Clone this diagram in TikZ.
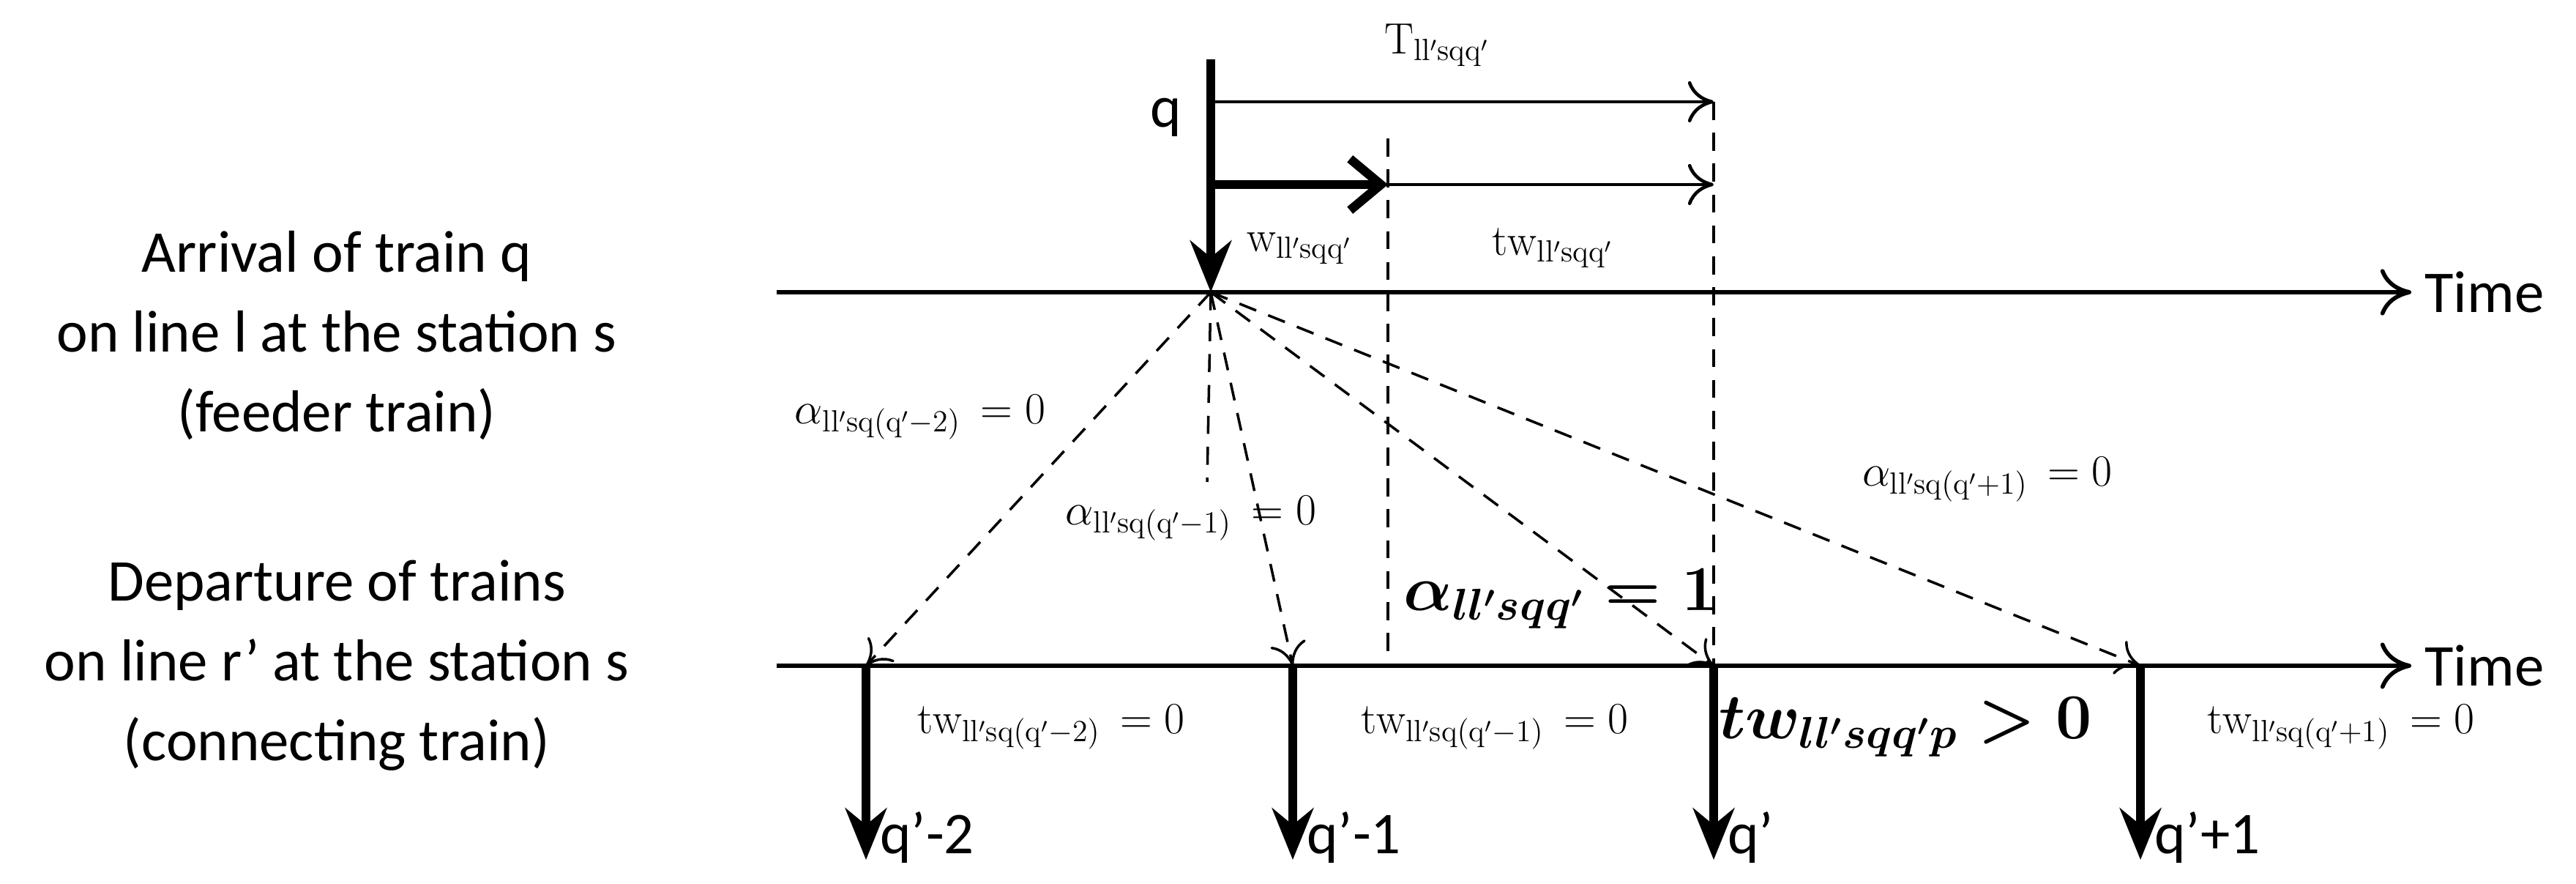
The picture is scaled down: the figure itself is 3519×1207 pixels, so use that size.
\documentclass[tikz,border=0pt]{standalone}
\usepackage{fontspec}
\usepackage{amsmath}
\newfontfamily\carl{Carlito}
\usetikzlibrary{arrows.meta}
\begin{document}
\begin{tikzpicture}[x=0.01cm,y=-0.01cm,
  axis/.style={line width=1.6pt,-{To[length=12pt,width=18pt]}},
  thin/.style={line width=1.3pt,-{To[length=10pt,width=16pt]}},
  dsh/.style={line width=1pt,dash pattern=on 7pt off 5pt},
  darr/.style={dsh,-{To[length=9pt,width=14pt]}},
  thick/.style={line width=3.5pt,-{Stealth[length=20pt,width=16pt]}},
  side/.style={font=\carl\fontsize{23}{31}\selectfont,align=center},
  lab/.style={font=\fontsize{17}{20}\selectfont,inner sep=1pt},
  big/.style={font=\boldmath\fontsize{23}{26}\selectfont,inner sep=1pt}]
\useasboundingbox (0,0) rectangle (3519,1207);
% axes
\coordinate (a0) at (1061,399); \coordinate (a1) at (3294,399);
\coordinate (b0) at (1061,909); \coordinate (b1) at (3294,909);
\draw[axis] (a0) -- (a1);
\draw[axis] (b0) -- (b1);
\node[side,anchor=west] (time1) at (3300,399) {Time};
\node[side,anchor=west] (time2) at (3300,909) {Time};
\node[side] (feed) at (460,458) {Arrival of train q\\on line l at the station s\\(feeder train)};
\node[side] (conn) at (460,909) {Departure of trains\\on line r’ at the station s\\(connecting train)};
% feeder
\coordinate (f) at (1654,399);
\coordinate (ftop) at (1654,81);
\draw[thick] (ftop) -- (f);
\node[side] (q) at (1593,160) {q};
\coordinate (t0) at (1654,139); \coordinate (t1) at (2341,139);
\coordinate (w0) at (1654,252); \coordinate (w1) at (1896,252); \coordinate (w2) at (2341,252);
\draw[thin] (t0) -- (t1);
\draw[thin] (w1) -- (w2);
\draw[line width=3.5pt,-{Straight Barb[length=12pt,width=20pt]}] (w0) -- (w1);
\coordinate (d1t) at (1896,189); \coordinate (d1b) at (1896,909);
\coordinate (d2t) at (2341,139); \coordinate (d2b) at (2341,909);
\draw[dsh] (d1t) -- (d1b);
\draw[dsh] (d2t) -- (d2b);
\node[lab] (T) at (1963,62) {$\mathrm{T}_{\mathrm{ll'sqq'}}$};
\node[lab] (w) at (1775,339) {$\mathrm{w}_{\mathrm{ll'sqq'}}$};
\node[lab] (tw) at (2121,339) {$\mathrm{tw}_{\mathrm{ll'sqq'}}$};
% departures
\coordinate (p1) at (1183,909); \coordinate (p2) at (1766,909);
\coordinate (p3) at (2341,909); \coordinate (p4) at (2924,909);
\coordinate (e1) at (1183,1174); \coordinate (e2) at (1766,1174);
\coordinate (e3) at (2341,1174); \coordinate (e4) at (2924,1174);
\draw[darr] (f) -- (p1);
\draw[darr] (f) -- (p2);
\draw[darr] (f) -- (p3);
\draw[darr] (f) -- (p4);
\coordinate (fd) at (1649,658);
\draw[dsh] (f) -- (fd);
\draw[thick] (p1) -- (e1);
\draw[thick] (p2) -- (e2);
\draw[thick] (p3) -- (e3);
\draw[thick] (p4) -- (e4);
\node[side,anchor=west] (q1) at (1190,1143) {q’-2};
\node[side,anchor=west] (q2) at (1773,1143) {q’-1};
\node[side,anchor=west] (q3) at (2348,1143) {q’};
\node[side,anchor=west] (q4) at (2931,1143) {q’+1};
% alpha labels
\node[lab] (al1) at (1257,570) {$\alpha_{\mathrm{ll'sq(q'-2)}}\,=0$};
\node[lab] (al2) at (1627,708) {$\alpha_{\mathrm{ll'sq(q'-1)}}\,=0$};
\node[lab] (al4) at (2715,655) {$\alpha_{\mathrm{ll'sq(q'+1)}}\,=0$};
\node[big] (al3) at (2132,818) {$\alpha_{ll'sqq'}=1$};
% tw labels
\node[lab] (tw1) at (1436,993) {$\mathrm{tw}_{\mathrm{ll'sq(q'-2)}}\,=0$};
\node[lab] (tw2) at (2042,993) {$\mathrm{tw}_{\mathrm{ll'sq(q'-1)}}\,=0$};
\node[big] (tw3) at (2603,993) {$tw_{ll'sqq'p}>0$};
\node[lab] (tw4) at (3198,993) {$\mathrm{tw}_{\mathrm{ll'sq(q'+1)}}\,=0$};
\end{tikzpicture}
\end{document}
